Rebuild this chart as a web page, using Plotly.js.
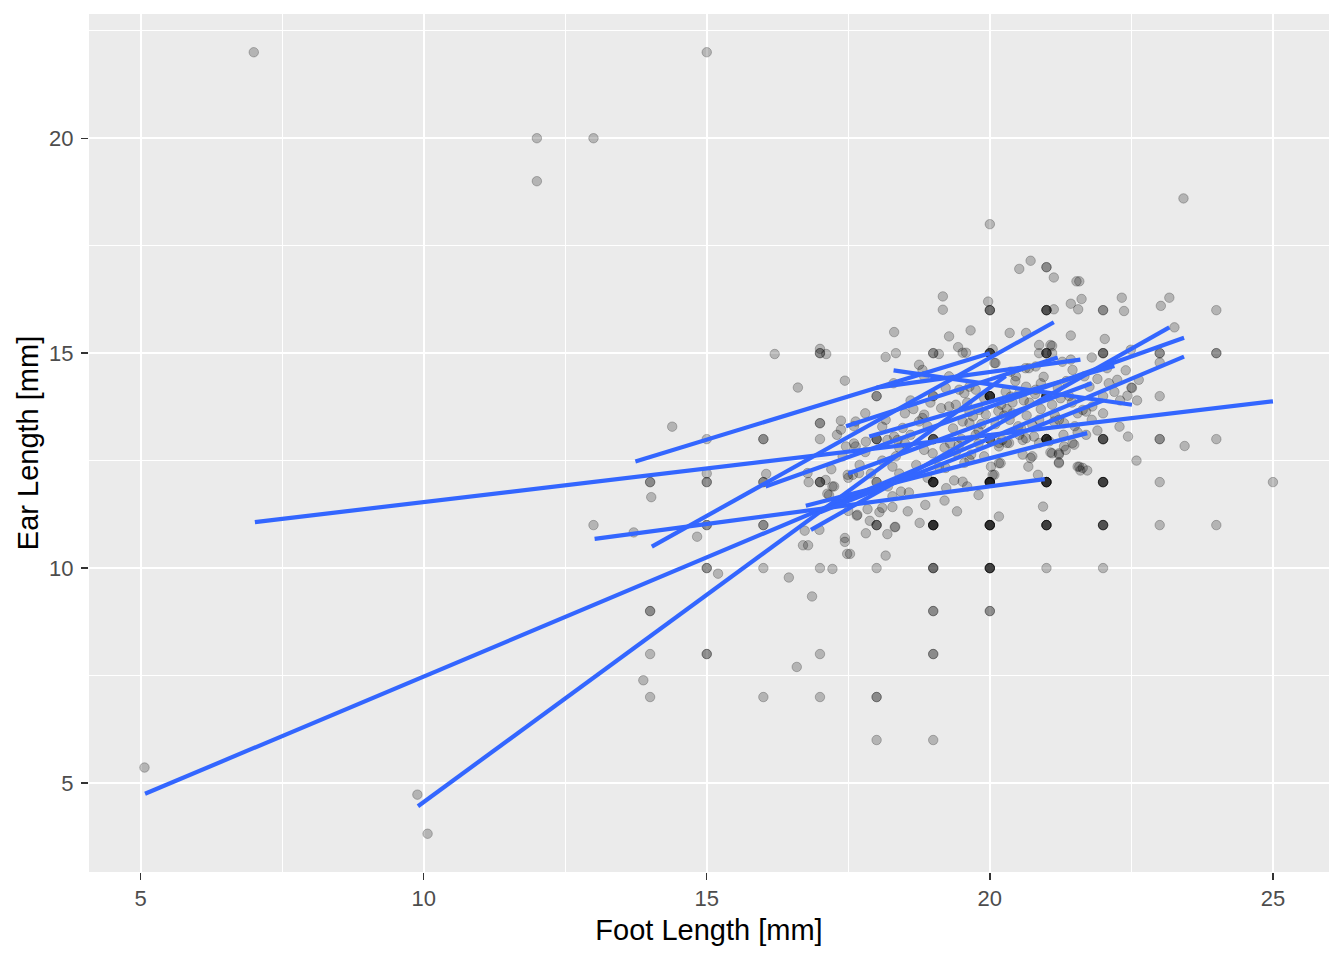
<!DOCTYPE html>
<html>
<head>
<meta charset="utf-8">
<script src="https://cdn.plot.ly/plotly-3.0.1.min.js"></script>
<style>html,body{margin:0;padding:0;background:#fff;}#chart{width:1344px;height:960px;}</style>
</head>
<body>
<div id="chart"></div>
<script>
// ---- Data ----
// Scatter points: foot length [mm] and ear length [mm]
const foot_length = [
  7,15,12,13,12,5.07,9.89,10.07,23.42,20,
  13,13.71,14.39,14,14,14.02,15,15,15,15,14.83,15,15,15,15,15.2,14,14,14,15,15,13.88,14,16,17,18,18,18,19,17,16.59,16.86,
  16,16.45,17,17.22,18,16,16,16,16,16.05,16,16,16.2,16.61,17,17,17,17.11,17.44,17,17,17,17.37,17.37,17.63,17.81,17.46,17.63,
  17.49,17.58,17.69,17.22,17.16,17.1,16.78,16.8,17,17,17,17.13,17.25,16.73,16.79,16.7,17.44,17.44,17.53,17.48,17.81,17.65,16.99,
  18,18,18,17.88,17.5,17.84,17.66,18.19,18.32,18.33,18.16,18,18,
  18.55,18.76,18.86,19.2,19.42,18.43,18.57,18.28,18.28,18.05,18.1,19.23,19.37,19.52,
  19,19,19,19,19,19,19,19,19,19,19,19,19,19,19,19,19,19,19,19,19,
  18,18,18,18.16,18.1,18.46,18.19,18.37,18.31,18.34,18.28,18.84,18.99,19.1,19.22,18.81,18.75,18.84,18,18,18.16,18.34,18.31,
  18.75,18.81,18.84,19,19,19.1,19,19,19.14,19.28,19.4,19.22,19.46,19.55,19.64,19.75,19.28,19.28,19.44,19.52,19.58,19.66,19.17,19.17,
  19,19,19.64,19.7,19.81,19.93,19.52,19.64,19.64,19.67,19.3,19.5,19.4,19.8,19.8,19.9,19.6,19.8,
  18.5,18.6,18.7,18.5,18.6,18.3,18.9,18.9,18.2,18.4,18.1,17.9,17.7,17.8,17.6,17.3,17.6,17.8,17.4,17.2,17.5,
  20,20,20,20,20,20,20,20,20,20,20,20,20,20,20,20,20,20,20,20,20,20,20,20,20,20,20,20,20,20,20,20,20,20,20,20,
  19.97,20.05,20.1,20.08,20.16,20.34,20.16,20.02,20.08,20.05,20.16,20.94,20.22,20.3,20.16,20.19,20.28,20.37,20.52,20.64,20.81,
  20.63,20.81,20.69,20.37,20.46,20.35,20.64,20.52,20.72,20.58,20.75,20.68,20.85,20.52,20.64,20.78,20.87,20.75,20.87,20.72,20.58,
  20.4,20.5,20.2,20.9,20.87,20.87,
  21,21,21,21,21,21,21,21,21,21,21,21,21,21,21,21,21,21,21,21,21,21,21,21,21,21,21,21,21,21,21,21,
  21.07,21.1,21.1,21.13,21.43,21.56,21.13,21.53,21.62,21.43,21.28,21.43,21.46,21.67,21.76,21.0,21.2,21.4,21.1,21.3,21.5,
  21.07,21.22,21.22,21.34,21.49,21.58,21.72,21.55,21.7,21.55,21.64,21.7,21.81,21.22,21.31,21.13,21.1,21.22,21.31,21.46,21.55,
  21.64,21.22,21.6,21.8,21.8,21.9,21.9,21.58,
  22,22,22,22,22,22,22,22,22,22,22,22,22,22,22,22,22,22,22,22,
  22.03,22.07,22.25,22.51,22.63,22.43,22.1,22.2,22.3,22.0,22.4,22.5,22.6,22.29,22.44,22.59,22.33,22.37,22.49,
  23.02,23.17,23.26,23,23,23,23,23,23,23.44,23,23,24,24,24,24,24,25,
  // extra points in the dense centre
  19.35,19.6,19.85,20.25,20.45,20.7,20.95,21.15,21.35,20.1,20.3,20.55,20.8,19.45,19.75,
  20.15,20.4,20.65,20.9,21.25,19.2,19.55,19.9,20.35,20.6,21.05,21.45,18.95,18.65,18.4
];
const ear_length = [
  22,22,20,20,19,5.36,4.73,3.82,18.6,18,
  11,10.83,13.29,12,12,11.65,12,12,12.2,13,10.73,11,11,10,10,9.87,9,9,8,8,8,7.39,7,7,7,7,7,6,6,8,7.7,9.34,
  10,9.78,10,9.98,10,11,11,12,12,12.19,13,13,14.98,14.2,15,15,15.1,14.98,14.36,13.37,13.37,13,13.43,13.22,13.41,12.94,12.83,12.83,
  12.17,12.17,12.21,11.9,11.7,12.05,12.21,12.0,12,12,12,11.73,11.9,10.87,10.53,10.53,10.7,10.61,10.33,10.33,10.81,11.22,10.89,
  11,11,11,11.1,11.33,11.37,11.24,10.79,10.95,10.96,10.29,12,12,
  11.32,11.05,11.47,11.57,11.32,11.78,11.76,11.67,11.42,11.3,11.4,11.86,12.04,12.01,
  11,11,11,11,11,11,12,12,12,12,12,12,10,10,10,9,9,8,8,13,13,
  13,13,13,13.45,13.29,13.26,12.98,12.98,13.06,12.6,12.36,12.75,12.67,12.36,12.33,13.49,13.41,13.57,14,14,14.91,15.0,15.49,
  14.73,14.61,14.46,15,15,14.98,14,14,13.72,13.76,13.8,14.19,14.15,14.07,14.22,14.15,14.46,15.39,15.14,15.01,15.01,15.53,16.32,16.01,
  13,13,13.64,13.53,13.68,13.57,13.41,13.37,12.52,12.64,12.9,13.0,12.7,12.9,13.2,12.6,11.9,11.7,
  12.9,13.1,12.4,13.6,13.9,14.3,13.3,12.1,11.9,12.2,12.5,12.2,12.4,12.7,12.9,13.1,13.3,13.6,12.6,12.3,12.1,
  12,12,12,12,12,12,12,11,11,11,11,11,11,10,10,10,10,10,9,9,13,13,13,14,14,14,14,14,14,15,15,15,15,16,16,16,
  16.2,15.09,14.77,14.77,12.91,12.91,12.44,12.36,12.17,12.17,11.2,11.43,12.98,12.91,12.83,12.44,14.1,13.99,14.07,14.22,14.15,
  14.65,14.69,14.65,14.57,14.46,15.47,15.47,16.96,17.15,12.98,12.6,12.36,12.17,13.1,13.02,13.06,12.91,13.33,13.45,12.56,12.64,
  13.6,13.3,13.8,13.7,15.0,15.19,
  12,12,12,12,12,12,11,11,11,11,11,10,13,13,13,13,13,13,15,15,15,15,16,16,16,16,17,17,14,14,14,14,
  15.19,15.17,15.0,16.02,16.15,16.02,16.76,16.67,16.26,15.41,14.8,14.85,14.61,14.46,14.22,14.0,14.2,14.0,13.8,13.1,13.3,
  12.69,12.67,12.46,12.75,12.87,12.36,12.27,13.16,13.1,13.6,13.68,13.64,13.76,13.45,13.37,13.41,12.67,12.64,12.83,12.91,12.36,
  12.33,12.44,12.27,13.45,14.9,14.4,13.2,16.67,
  12,12,12,12,12,11,11,11,11,10,13,13,13,13,15,15,15,16,16,14,
  15.33,14.65,14.38,14.19,14.38,14.01,14.3,14.1,13.9,13.6,14.6,14.2,13.9,13.29,13.06,12.5,16.29,15.98,15.08,
  16.1,16.29,15.6,15,15,14.78,14,13,13,12.84,12,11,16,15,15,13,11,12,
  13.25,13.85,13.35,13.55,14.35,13.85,14.45,13.55,14.35,13.35,13.7,13.25,14.05,12.85,13.1,
  13.65,13.85,13.55,14.3,13.95,12.8,12.45,13.95,13.45,13.9,12.95,13.85,13.85,13.7,12.8
];

// Per-group linear fits (start / end of each fitted segment)
const fit_x_start = [7.02, 5.08, 9.9, 13.74, 14.03, 13.02, 18.3, 16.04, 16.84, 16.75, 17.46, 17.87, 17.0, 17.5, 18.0];
const fit_y_start = [11.07, 4.75, 4.46, 12.48, 10.5, 10.68, 14.6, 11.9, 10.89, 11.45, 13.3, 13.06, 11.3, 12.2, 14.2];
const fit_x_end   = [25.0, 23.43, 20.28, 20.0, 21.13, 20.97, 22.51, 23.43, 23.17, 21.72, 21.2, 22.2, 22.0, 21.8, 21.6];
const fit_y_end   = [13.88, 14.92, 14.47, 15.0, 15.72, 12.07, 13.8, 15.36, 15.6, 13.14, 14.9, 14.7, 13.9, 14.3, 14.85];

// Axis ticks
const x_ticks = [5, 10, 15, 20, 25];
const y_ticks = [5, 10, 15, 20];
const x_minor = [7.5, 12.5, 17.5, 22.5];
const y_minor = [7.5, 12.5, 17.5, 22.5];

// ---- Build traces ----
const lineX = [], lineY = [];
for (let i = 0; i < fit_x_start.length; i++) {
  lineX.push(fit_x_start[i], fit_x_end[i], null);
  lineY.push(fit_y_start[i], fit_y_end[i], null);
}

const pts = {
  type: 'scatter', mode: 'markers',
  x: foot_length, y: ear_length,
  marker: {size: 9.5, color: 'rgba(0,0,0,0.23)', line: {width: 1, color: 'rgba(0,0,0,0.23)'}},
  hoverinfo: 'skip'
};
const fits = {
  type: 'scatter', mode: 'lines',
  x: lineX, y: lineY,
  line: {color: '#3366FF', width: 4.2},
  connectgaps: false,
  hoverinfo: 'skip'
};

const font = 'Liberation Sans, Arial, sans-serif';
const axisCommon = {
  showgrid: true, gridcolor: '#FFFFFF', gridwidth: 2,
  zeroline: false, showline: false,
  ticks: 'outside', ticklen: 7, tickwidth: 1.4, tickcolor: '#333333',
  tickfont: {family: font, size: 22, color: '#4D4D4D'},
  automargin: false
};

const layout = {
  width: 1344, height: 960,
  margin: {l: 89, r: 15, t: 14, b: 87.5, pad: 0},
  paper_bgcolor: '#FFFFFF', plot_bgcolor: '#EBEBEB',
  showlegend: false, hovermode: false,
  font: {family: font},
  xaxis: Object.assign({}, axisCommon, {
    range: [4.09, 25.99], tickmode: 'array', tickvals: x_ticks,
    ticklabelstandoff: 0,
    minor: {tickmode: 'array', tickvals: x_minor, showgrid: true, gridcolor: '#FFFFFF', gridwidth: 1, ticks: ''},
    title: {text: 'Foot Length [mm]', font: {family: font, size: 29, color: '#000000'}, standoff: 9}
  }),
  yaxis: Object.assign({}, axisCommon, {
    range: [2.93, 22.89], tickmode: 'array', tickvals: y_ticks,
    ticklabelstandoff: 3,
    minor: {tickmode: 'array', tickvals: y_minor, showgrid: true, gridcolor: '#FFFFFF', gridwidth: 1, ticks: ''},
    title: {text: 'Ear Length [mm]', font: {family: font, size: 29, color: '#000000'}, standoff: 1}
  })
};

Plotly.newPlot('chart', [pts, fits], layout, {displayModeBar: false, staticPlot: true});
</script>
</body>
</html>
